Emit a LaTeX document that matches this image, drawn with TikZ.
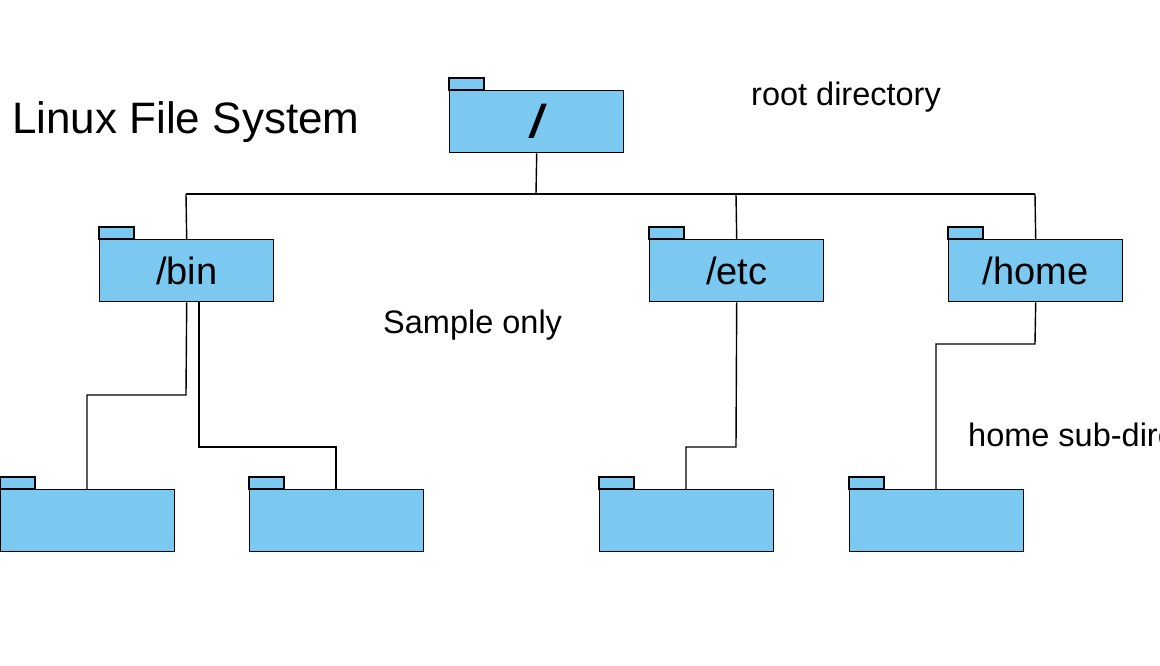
\documentclass[tikz,border=0pt]{standalone}
\usepackage{fontspec}
\setmainfont{Liberation Sans}
\begin{document}
\begin{tikzpicture}[x=1pt,y=-1pt,
  body/.style={draw=black,fill=fillc,line width=1.4pt,minimum width=174pt,minimum height=62pt,inner sep=0pt,font=\fontsize{38}{42}\selectfont},
  conn/.style={draw=black,line width=1.4pt},
  lbl/.style={anchor=west,inner sep=0pt,font=\fontsize{32.5}{36}\selectfont}]
\definecolor{fillc}{HTML}{7BC8F0}
\useasboundingbox (0,0) rectangle (1160,665);
\clip (0,0) rectangle (1160,665);
\newcommand{\folder}[4]{% name, left x, top y of body, text
  \fill[fillc,draw=black,line width=1.4pt] (#2,#3-12) rectangle (#2+35,#3);
  \node[body,anchor=north west] (#1) at (#2,#3) {#4};
}
\folder{root}{449}{90}{\fontsize{46}{50}\selectfont\bfseries\itshape /}
\folder{bin}{99}{239}{/bin}
\folder{etc}{649}{239}{/etc}
\folder{home}{948}{239}{/home}
\folder{b1}{0}{489}{}
\folder{b2}{249}{489}{}
\folder{e1}{599}{489}{}
\folder{h1}{849}{489}{}
\draw[conn] (root.south) -- (536,194);
\draw[conn] (186,194) -- (1035,194);
\draw[conn] (186,194) -- (bin.north);
\draw[conn] (736,194) -- (etc.north);
\draw[conn] (1035,194) -- (home.north);
\draw[conn] (bin.south) -- (186,395) -- (87,395) -- (87,489);
\draw[conn] (199,301) -- (199,447) -- (336,447) -- (336,489);
\draw[conn] (etc.south) -- (736,447) -- (686,447) -- (686,489);
\draw[conn] (home.south) -- (1035,344) -- (936,344) -- (936,489);
\node[anchor=west,inner sep=0pt,font=\fontsize{44}{48}\selectfont] (title) at (12,122) {Linux File System};
\node[lbl] (rd) at (751,97) {root directory};
\node[lbl] (so) at (383,325) {Sample only};
\node[lbl] (hs) at (968,435) {home sub-directories};
\end{tikzpicture}
\end{document}
